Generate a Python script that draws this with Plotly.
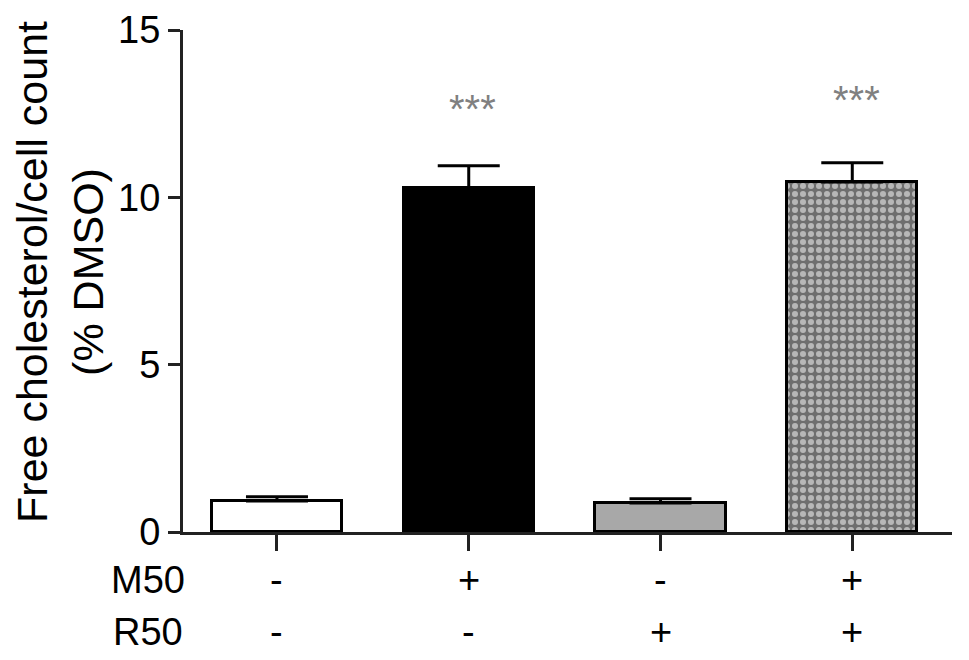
import plotly.graph_objects as go

# values
groups = [0, 1, 2, 3]
means = [0.93, 10.28, 0.87, 10.46]
sem = [0.12, 0.66, 0.12, 0.57]
m50 = ["-", "+", "-", "+"]
r50 = ["-", "-", "+", "+"]
stars = ["", "***", "", "***"]
star_y = [0, 12.65, 0, 12.9]

fills = ["white", "black", "#a8a8a8", "#6e6e6e"]

font = "Liberation Sans, Arial, sans-serif"

fig = go.Figure()
fig.add_trace(go.Bar(
    x=groups,
    y=means,
    width=0.68,
    marker=dict(
        color=fills,
        line=dict(color="black", width=3),
        pattern=dict(
            shape=["", "", "", "."],
            fgcolor="#a0a0a0",
            bgcolor="#404040",
            size=8,
            solidity=0.45,
            fillmode="overlay",
        ),
    ),
    error_y=dict(
        type="data",
        symmetric=False,
        array=sem,
        arrayminus=[0, 0, 0, 0],
        color="black",
        thickness=3,
        width=31,
    ),
))

for g, s, sy in zip(groups, stars, star_y):
    if s:
        fig.add_annotation(x=g, y=sy, xref="x", yref="y", text=s, showarrow=False,
                           font=dict(size=40, color="#808080", family=font),
                           xanchor="center", yanchor="middle", xshift=4)

# treatment table under the axis
for g, a, b in zip(groups, m50, r50):
    fig.add_annotation(x=g, y=-0.096, xref="x", yref="paper", text=a, showarrow=False,
                       font=dict(size=38, color="black", family=font),
                       xanchor="center", yanchor="middle")
    fig.add_annotation(x=g, y=-0.199, xref="x", yref="paper", text=b, showarrow=False,
                       font=dict(size=38, color="black", family=font),
                       xanchor="center", yanchor="middle")
fig.add_annotation(x=-0.046, y=-0.096, xref="paper", yref="paper", text="M50", showarrow=False,
                   font=dict(size=38, color="black", family=font),
                   xanchor="center", yanchor="middle")
fig.add_annotation(x=-0.046, y=-0.199, xref="paper", yref="paper", text="R50", showarrow=False,
                   font=dict(size=38, color="black", family=font),
                   xanchor="center", yanchor="middle")

# y axis title
fig.add_annotation(x=-0.16, y=0.518, xref="paper", yref="paper",
                   text="Free cholesterol/cell count<br>(% DMSO)", showarrow=False,
                   textangle=-90, font=dict(size=43, color="black", family=font),
                   xanchor="center", yanchor="middle")

# page body has an 8px margin, so the figure is 8px smaller than the window
fig.update_layout(
    width=961,
    height=652,
    margin=dict(l=175, r=17, t=22, b=128),
    plot_bgcolor="white",
    paper_bgcolor="white",
    showlegend=False,
    bargap=0,
    xaxis=dict(
        range=[-0.49, 3.52],
        tickvals=groups,
        ticktext=["", "", "", ""],
        ticks="outside",
        ticklen=16,
        tickwidth=3,
        tickcolor="#222",
        showline=True,
        linecolor="#222",
        linewidth=3,
        showgrid=False,
        zeroline=False,
        automargin=False,
    ),
    yaxis=dict(
        range=[0, 15],
        tickvals=[0, 5, 10, 15],
        ticks="outside",
        ticklen=12,
        tickwidth=3,
        tickcolor="#222",
        showline=True,
        linecolor="#222",
        linewidth=3,
        showgrid=False,
        zeroline=False,
        automargin=False,
        tickfont=dict(size=38, color="black", family=font),
    ),
)

fig.write_html("out.html")
